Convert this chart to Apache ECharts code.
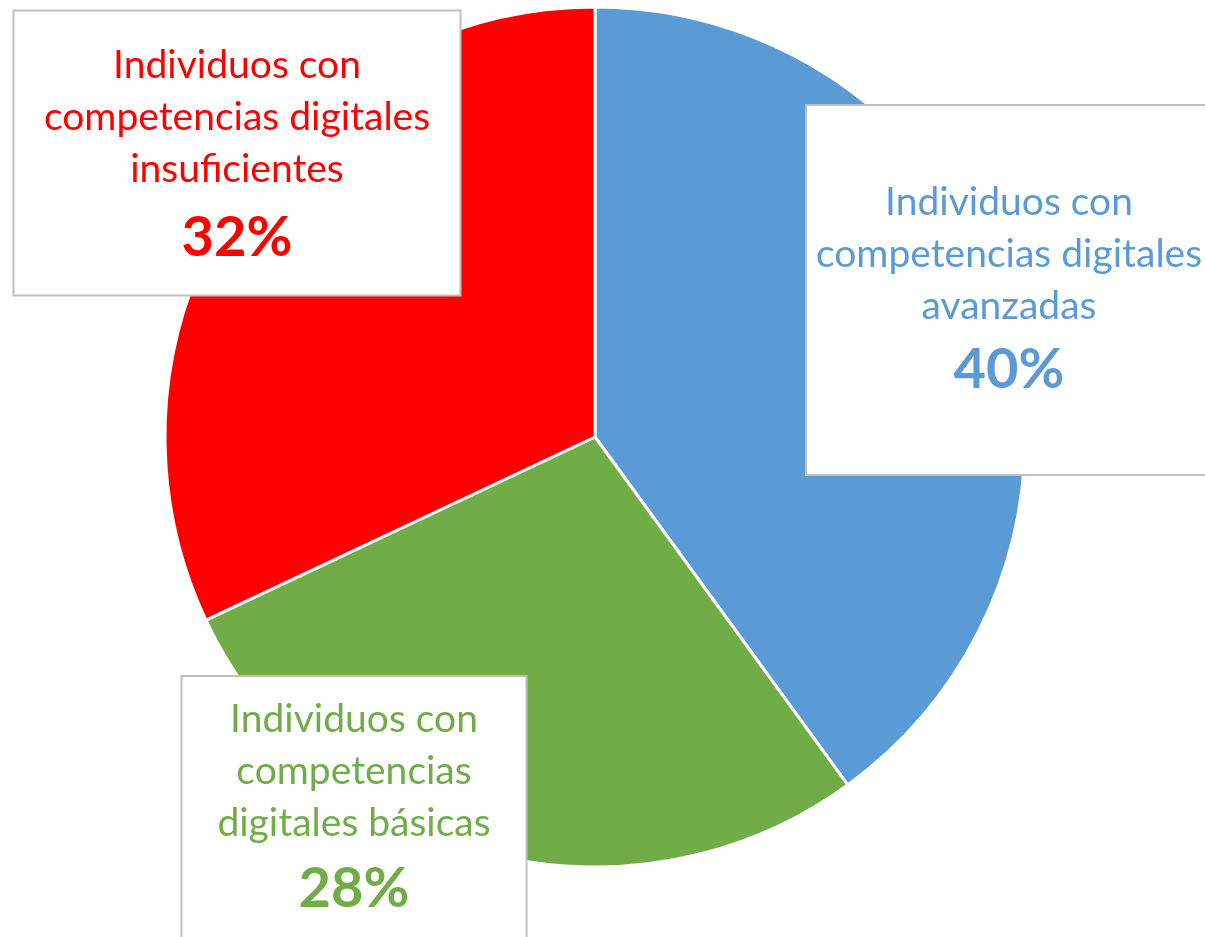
<!DOCTYPE html>
<html>
<head>
<meta charset="utf-8">
<script src="https://cdn.jsdelivr.net/npm/echarts@6/dist/echarts.min.js"></script>
<style>
  html, body { margin: 0; padding: 0; background: #fff; }
  #chart { width: 1205px; height: 937px; }
</style>
</head>
<body>
<div id="chart"></div>
<script>
// --- data ---
const categories = [
  'Individuos con\ncompetencias digitales\navanzadas',
  'Individuos con\ncompetencias\ndigitales básicas',
  'Individuos con\ncompetencias digitales\ninsuficientes'
];
const shares = [40, 28, 32];
const colors = ['#5B9BD5', '#70AD47', '#FF0000'];

// label boxes (centre, width, paddings), same order as categories
const boxes = [
  { x: 1009, y: 290, w: 404, pad: [70, 0, 66, 0], pctLH: 76 },
  { x: 354, y: 810, w: 343, pad: [16, 0, 14, 0], pctLH: 80 },
  { x: 237, y: 153, w: 445, pad: [28, 0, 15, 0], pctLH: 84 }
];

const chart = echarts.init(document.getElementById('chart'));

const FONT = 'Lato, "Open Sans", sans-serif';

const option = {
  backgroundColor: '#fff',
  animation: false,
  series: [{
    type: 'pie',
    center: [595, 437],
    radius: 430,
    startAngle: 90,
    clockwise: true,
    itemStyle: { borderColor: '#fff', borderWidth: 3 },
    labelLine: { show: false },
    label: {
      show: true,
      position: 'inside',
      formatter: p => p.name.split('\n').map(l => '{t|' + l + '}').join('\n') + '\n{p|' + p.value + '%}',
      backgroundColor: '#fff',
      borderColor: '#BFBFBF',
      borderWidth: 2,
      align: 'center',
      verticalAlign: 'middle'
    },
    labelLayout: p => {
      const b = boxes[p.dataIndex];
      return { x: b.x, y: b.y, align: 'center', verticalAlign: 'middle', hideOverlap: false };
    },
    data: categories.map((name, i) => ({
      name: name,
      value: shares[i],
      itemStyle: { color: colors[i] },
      label: {
        width: boxes[i].w,
        padding: boxes[i].pad,
        rich: {
          t: { fontFamily: FONT, fontSize: 39, lineHeight: 52, color: colors[i], align: 'center' },
          p: { fontFamily: FONT, fontSize: 56, fontWeight: 'bold', lineHeight: boxes[i].pctLH, color: colors[i], align: 'center' }
        }
      }
    }))
  }]
};

chart.setOption(option);
</script>
</body>
</html>
